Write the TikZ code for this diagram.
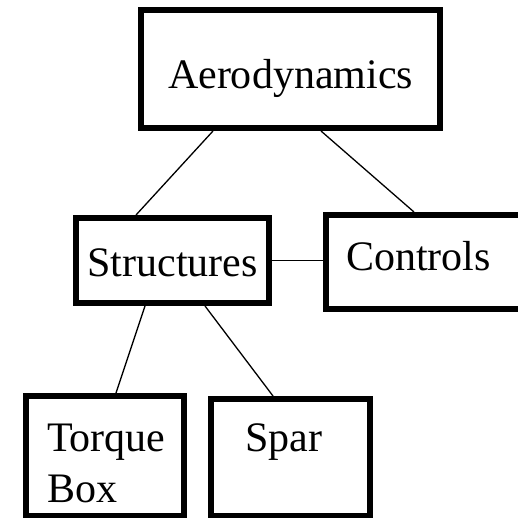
\documentclass[tikz,border=0pt]{standalone}
\usepackage{fontspec}
\setmainfont{Liberation Serif}

\begin{document}
\begin{tikzpicture}[x=1pt,y=-1pt,
   blk/.style={draw,line width=6pt,inner sep=0pt,
     font=\fontsize{42}{51}\selectfont},
   link/.style={line width=1.3pt}]
 \useasboundingbox (0,0) rectangle (518,518);
 % discipline boxes
 \node[blk,minimum width=299pt,minimum height=118pt,
   text height=40pt,text depth=0pt] (aero) at (290.5,69) {Aerodynamics};
 \node[blk,minimum width=193pt,minimum height=85pt,
   text height=31pt,text depth=0pt] (struct) at (172.5,260.5) {Structures};
 \node[blk,inner xsep=20pt,text width=194pt,align=left,minimum height=94pt,
   text height=29pt,text depth=13pt] (ctrl) at (443,262) {Controls};
 % sub-components of the structure
 \node[blk,inner xsep=21pt,text width=116pt,align=left,minimum height=120pt,
   text height=30pt,text depth=40pt] (torque) at (105,456) {Torque\\Box};
 \node[blk,inner xsep=34pt,text width=91pt,align=left,minimum height=117pt,
   text height=30pt,text depth=43pt] (spar) at (290.5,457.5) {Spar};
 % links
 \draw[link] ([xshift=75pt]aero.south west) -- ([xshift=63pt]struct.north west);
 \draw[link] ([xshift=183pt]aero.south west) -- ([xshift=91pt]ctrl.north west);
 \draw[link] (struct.east) -- (struct.east -| ctrl.west);
 \draw[link] ([xshift=72pt]struct.south west) -- ([xshift=93pt]torque.north west);
 \draw[link] ([xshift=132pt]struct.south west) -- ([xshift=65pt]spar.north west);
\end{tikzpicture}
\end{document}
